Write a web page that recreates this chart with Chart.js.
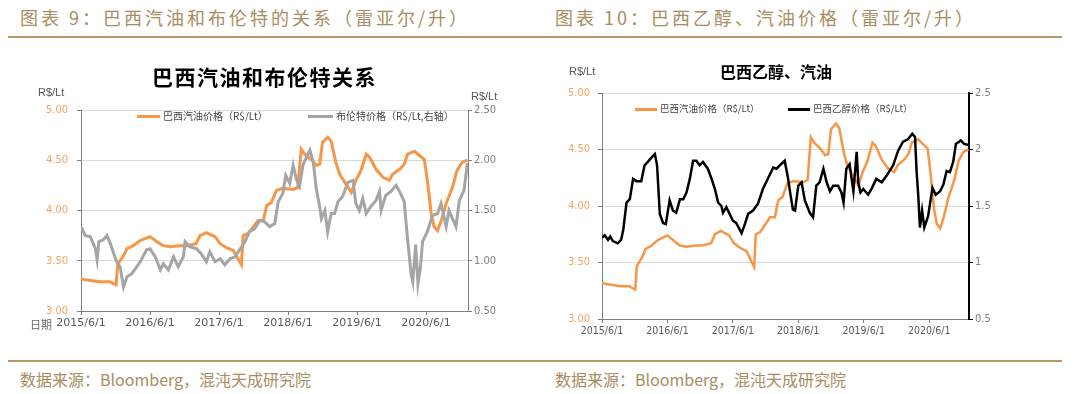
<!DOCTYPE html>
<html>
<head>
<meta charset="utf-8">
<script src="https://cdn.jsdelivr.net/npm/chart.js@4.4.1/dist/chart.umd.min.js"></script>
<style>
  body { margin: 0; width: 1080px; height: 394px; background: #fff; position: relative; overflow: hidden;
         font-family: "Noto Sans CJK SC", sans-serif; }
  .abs  { position: absolute; white-space: nowrap; line-height: 1; }
  .head { top: 8px; font-size: 18px; color: #A88D60; letter-spacing: 3px; }
  .foot { top: 371px; font-size: 16px; color: #A88D60; letter-spacing: 0; }
  .rule { position: absolute; height: 2px; background: #B49A6A; }
  .box  { position: absolute; top: 40px; width: 540px; height: 300px; }
  .title{ font-weight: bold; color: #000; }
  .unit { font-size: 11px; color: #555; font-family: "Liberation Sans", sans-serif; }
  .leg  { font-size: 10px; color: #444; }
  .sw   { position: absolute; height: 3px; }
</style>
</head>
<body>

<div class="abs head" style="left:20px;">图表 9：巴西汽油和布伦特的关系（雷亚尔/升）</div>
<div class="abs head" style="left:555px;">图表 10：巴西乙醇、汽油价格（雷亚尔/升）</div>
<div class="rule" style="left:8px; width:1054px; top:36px;"></div>

<div class="box" style="left:0;"><canvas id="chartLeft"></canvas></div>
<div class="box" style="left:540px;"><canvas id="chartRight"></canvas></div>

<!-- 左图 文字 -->
<div class="abs title" style="left:152px; top:66px; font-size:21px; letter-spacing:1.5px;">巴西汽油和布伦特关系</div>
<div class="abs unit" style="left:38px; top:87px;">R$/Lt</div>
<div class="abs unit" style="left:471px; top:91px;">R$/Lt</div>
<div class="sw" style="left:137px; top:115px; width:23px; background:#F79646;"></div>
<div class="abs leg" style="left:163px; top:111px;">巴西汽油价格（R$/Lt）</div>
<div class="sw" style="left:308px; top:115px; width:25px; background:#A5A5A5;"></div>
<div class="abs leg" style="left:336px; top:111px;">布伦特价格（R$/Lt,右轴）</div>
<div class="abs" style="left:30px; top:319px; font-size:11px; color:#666;">日期</div>

<!-- 右图 文字 -->
<div class="abs title" style="left:720px; top:63px; font-size:16px;">巴西乙醇、汽油</div>
<div class="abs unit" style="left:569px; top:66px;">R$/Lt</div>
<div class="sw" style="left:635px; top:108px; width:22px; background:#F79646;"></div>
<div class="abs leg" style="left:660px; top:104px; font-size:9.5px;">巴西汽油价格（R$/Lt）</div>
<div class="sw" style="left:788px; top:108px; width:22px; background:#000;"></div>
<div class="abs leg" style="left:813px; top:104px; font-size:9.5px;">巴西乙醇价格（R$/Lt）</div>

<div class="rule" style="left:8px; width:1054px; top:360px;"></div>
<div class="abs foot" style="left:20px;">数据来源：Bloomberg，混沌天成研究院</div>
<div class="abs foot" style="left:555px;">数据来源：Bloomberg，混沌天成研究院</div>

<script>
/* ---------- 数据 (x = 自 2015/6/1 起的月数) ---------- */
const X_TICKS  = [0, 12, 24, 36, 48, 60];
const X_LABELS = ['2015/6/1', '2016/6/1', '2017/6/1', '2018/6/1', '2019/6/1', '2020/6/1'];
const X_MAX = 67.3;

// 巴西汽油价格 (R$/Lt, 左轴)
const gasMonths = [0,0.8,2,3.4,5,5.7,6.1,6.4,7.4,8,9.1,10.3,12,13.2,14.3,15.5,17.2,18.4,20,20.7,21.8,23.3,24.2,25.3,26.5,27.3,27.9,28.2,29,30,30.8,31.7,32.3,33.1,34,35.1,36.9,37.7,38.3,38.9,40,40.9,41.5,42,42.9,43.5,44.4,45,46.1,47,47.8,48.7,49.6,50.2,51.3,52.5,53.6,54.2,55.4,56.2,56.8,58,58.8,59.7,60.3,60.9,61.4,62,62.6,63.5,64.6,65.4,66.3,67.2];
const gasPrice  = [3.32,3.31,3.30,3.29,3.29,3.27,3.26,3.47,3.55,3.62,3.65,3.70,3.74,3.69,3.65,3.64,3.65,3.65,3.67,3.75,3.78,3.74,3.67,3.63,3.60,3.52,3.46,3.75,3.77,3.84,3.90,3.90,4.05,4.08,4.20,4.22,4.21,4.23,4.61,4.56,4.51,4.45,4.46,4.68,4.73,4.69,4.46,4.36,4.26,4.18,4.30,4.40,4.56,4.53,4.41,4.33,4.30,4.36,4.41,4.46,4.56,4.59,4.55,4.51,4.27,3.97,3.84,3.80,3.89,4.07,4.23,4.40,4.48,4.50];

// 布伦特价格 (R$/Lt, 右轴)
const brentMonths = [0,0.75,1.6,2.5,2.8,3.1,3.9,4.5,5.1,5.7,6.2,6.8,7.4,8,8.8,9.7,10.3,11.4,12,12.9,13.8,14.3,15.2,16.1,16.9,17.8,18.1,18.9,20.1,20.9,21.8,22.4,23.3,24.2,25,25.9,26.8,27.6,28.5,29.3,30.2,31.1,31.9,32.8,33.7,34.3,35.1,35.6,36.3,36.9,37.5,38,38.6,39.2,39.8,40.4,40.9,41.5,41.8,42.4,42.9,43.5,44.1,44.7,45.5,46.4,47.3,47.8,48.4,49,49.6,50.4,51.3,51.9,52.2,53,53.9,54.8,55.4,56.2,56.8,57.4,57.7,58.2,58.6,59,59.4,60.3,61.1,62,62.6,63.5,64,64.6,65.2,65.8,66.6,67.2];
const brentPrice  = [1.34,1.25,1.24,1.12,1.01,1.19,1.21,1.25,1.17,1.07,0.99,0.94,0.74,0.84,0.87,0.94,0.99,1.11,1.12,1.04,0.91,0.97,0.91,1.04,0.94,1.04,1.19,1.14,1.12,1.07,0.99,1.09,0.99,1.02,0.96,1.02,1.04,1.11,1.19,1.29,1.32,1.40,1.39,1.34,1.37,1.59,1.67,1.85,1.77,1.95,1.80,1.74,1.95,2.03,2.10,1.98,1.72,1.54,1.42,1.50,1.29,1.47,1.47,1.59,1.64,1.78,1.80,1.57,1.50,1.62,1.47,1.54,1.60,1.69,1.50,1.65,1.69,1.75,1.69,1.59,1.21,0.87,0.79,1.16,0.77,0.92,1.19,1.30,1.45,1.47,1.57,1.34,1.50,1.42,1.34,1.60,1.70,1.97];

// 巴西乙醇价格 (R$/Lt, 右轴)
const ethMonths = [0,0.5,1.1,1.5,2,2.9,3.5,3.9,4.5,5.1,5.7,6.3,7.2,7.8,8.4,9.1,9.7,10.1,10.6,11.2,11.7,12.4,13,13.6,14.3,14.9,15.5,16.1,16.7,17.3,17.9,18.5,19.4,20.1,20.7,21.3,21.9,22.2,22.8,23.4,24,24.6,25.6,26.2,26.8,27.7,28.6,29.5,30.5,31.4,32,32.6,33.5,34.1,34.6,35,35.4,36,36.6,37.2,38.1,38.7,39.3,39.9,40.6,41.2,41.8,42.4,43.3,43.9,44.3,44.8,45.4,46.1,46.4,46.7,47,47.4,47.9,48.8,49.4,50.3,51.3,52.2,53.4,54.3,55.2,56.1,56.9,57.4,57.7,58,58.3,58.7,59.1,59.8,60.6,61.2,62,62.6,63.2,63.8,64.4,64.9,65.8,66.4,67.3];
const ethPrice  = [1.22,1.24,1.20,1.23,1.19,1.17,1.20,1.29,1.53,1.56,1.74,1.72,1.72,1.86,1.89,1.93,1.96,1.86,1.43,1.35,1.34,1.55,1.46,1.44,1.56,1.56,1.62,1.74,1.90,1.90,1.86,1.89,1.83,1.74,1.65,1.53,1.50,1.44,1.49,1.43,1.37,1.35,1.26,1.34,1.43,1.46,1.52,1.65,1.75,1.84,1.83,1.86,1.90,1.75,1.59,1.47,1.46,1.68,1.71,1.55,1.44,1.40,1.68,1.71,1.83,1.71,1.63,1.68,1.68,1.62,1.53,1.83,1.87,1.63,1.80,1.98,1.71,1.62,1.65,1.60,1.65,1.74,1.71,1.77,1.86,1.99,2.07,2.09,2.14,2.11,1.80,1.59,1.31,1.46,1.31,1.41,1.66,1.60,1.63,1.69,1.81,1.80,1.89,2.05,2.08,2.05,2.04];

/* ---------- 样式 ---------- */
const ORANGE = '#F79646';
const GRAY   = '#A5A5A5';
const TICK_ORANGE = '#F5A463';
const AXIS   = '#7F7F7F';
const GRID   = '#D9D9D9';

function zip(xs, ys) { return xs.map((x, i) => ({ x, y: ys[i] })); }

function lineSet(label, xs, ys, color, width, order, axis) {
  return {
    label, data: zip(xs, ys), yAxisID: axis,
    borderColor: color, backgroundColor: color, borderWidth: width,
    pointRadius: 0, tension: 0, order
  };
}

function xScale(height, fontSize, family) {
  return {
    type: 'linear', min: 0, max: X_MAX,
    afterBuildTicks: s => { s.ticks = X_TICKS.map(v => ({ value: v })); },
    afterFit: s => { s.height = height; },
    grid: { drawOnChartArea: false, drawTicks: true, tickLength: 4, tickColor: AXIS },
    border: { color: AXIS },
    ticks: {
      maxRotation: 0, autoSkip: false, padding: 2, color: '#595959',
      font: { size: fontSize, family },
      callback: v => X_LABELS[X_TICKS.indexOf(v)]
    }
  };
}

function yLeft(width, pad) {
  return {
    position: 'left', min: 3, max: 5,
    afterBuildTicks: s => { s.ticks = [3, 3.5, 4, 4.5, 5].map(v => ({ value: v })); },
    afterFit: s => { s.width = width; },
    grid: { color: GRID, tickColor: AXIS, tickLength: 4 },
    border: { color: AXIS },
    ticks: { color: TICK_ORANGE, padding: pad, font: { size: 11, family: '"DejaVu Sans Condensed", sans-serif' },
             callback: v => v.toFixed(2) }
  };
}

function yRight(width, fmt, borderColor, borderWidth) {
  return {
    position: 'right', min: 0.5, max: 2.5,
    afterBuildTicks: s => { s.ticks = [0.5, 1, 1.5, 2, 2.5].map(v => ({ value: v })); },
    afterFit: s => { s.width = width; },
    grid: { drawOnChartArea: false, tickColor: borderColor, tickLength: 4 },
    border: { color: borderColor, width: borderWidth },
    ticks: { color: '#7F7F7F', padding: 2, font: { size: 11, family: '"DejaVu Sans Condensed", sans-serif' },
             callback: fmt }
  };
}

const baseOptions = {
  responsive: true, maintainAspectRatio: false, animation: false,
  plugins: { legend: { display: false }, tooltip: { enabled: false } }
};

/* ---------- 左图：巴西汽油和布伦特关系 ---------- */
new Chart(document.getElementById('chartLeft'), {
  type: 'line',
  data: {
    datasets: [
      lineSet('巴西汽油价格（R$/Lt）', gasMonths, gasPrice, ORANGE, 3, 2, 'y'),
      lineSet('布伦特价格（R$/Lt,右轴）', brentMonths, brentPrice, GRAY, 3, 1, 'y1')
    ]
  },
  options: {
    ...baseOptions,
    layout: { padding: { top: 70, left: 0, right: 0, bottom: 0 } },
    scales: {
      x: xScale(29, 11, '"DejaVu Sans", sans-serif'),
      y: yLeft(81, 9),
      y1: yRight(72, v => v.toFixed(2), AXIS, 1)
    }
  }
});

/* ---------- 右图：巴西乙醇、汽油 ---------- */
new Chart(document.getElementById('chartRight'), {
  type: 'line',
  data: {
    datasets: [
      lineSet('巴西汽油价格（R$/Lt）', gasMonths, gasPrice, ORANGE, 2.5, 2, 'y'),
      lineSet('巴西乙醇价格（R$/Lt）', ethMonths, ethPrice, '#000000', 2.5, 1, 'y1')
    ]
  },
  options: {
    ...baseOptions,
    layout: { padding: { top: 53, left: 0, right: 0, bottom: 0 } },
    scales: {
      x: xScale(21, 10.5, '"DejaVu Sans Condensed", sans-serif'),
      y: yLeft(62, 8),
      y1: yRight(111, v => String(v), '#000000', 2)
    }
  }
});
</script>
</body>
</html>
